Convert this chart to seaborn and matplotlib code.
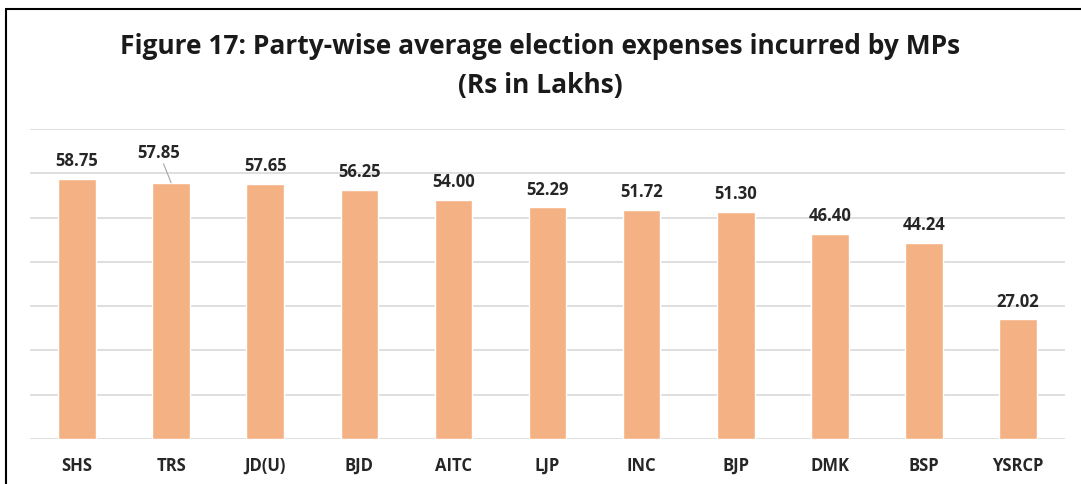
import numpy as np
import pandas as pd
import matplotlib
matplotlib.use("Agg")
import matplotlib.pyplot as plt
import seaborn as sns

parties = ["SHS", "TRS", "JD(U)", "BJD", "AITC", "LJP", "INC", "BJP", "DMK", "BSP", "YSRCP"]
avg_expense = [58.75, 57.85, 57.65, 56.25, 54.00, 52.29, 51.72, 51.30, 46.40, 44.24, 27.02]
value_labels = ["58.75", "57.85", "57.65", "56.25", "54.00", "52.29", "51.72", "51.30", "46.40", "44.24", "27.02"]

sns.set_style("white")
plt.rcParams['font.family'] = ['Open Sans', 'DejaVu Sans']

df = pd.DataFrame({"party": parties, "expense": avg_expense})

fig = plt.figure(figsize=(10.81, 4.85), dpi=100)
ax = fig.add_axes([30 / 1081, 45 / 485, 1035 / 1081, 310 / 485])

sns.barplot(data=df, x="party", y="expense", color="#F4B183", width=0.4,
            saturation=1, ax=ax, zorder=3)

ax.set_ylim(0, 70)
ax.set_yticks(np.arange(0, 71, 10))
ax.yaxis.grid(True, color="#D9D9D9", linewidth=1.2, zorder=0)
ax.set_yticklabels([])
ax.tick_params(axis="y", length=0)
ax.tick_params(axis="x", length=0, pad=12, labelsize=12, labelcolor="#262626")
for t in ax.get_xticklabels():
    t.set_fontweight("bold")
ax.set_xlabel("")
ax.set_ylabel("")
for s in ax.spines.values():
    s.set_visible(False)

# data labels (TRS label was dragged in the original, with a leader line)
for i, (v, lab) in enumerate(zip(avg_expense, value_labels)):
    if parties[i] == "TRS":
        ax.annotate(lab, xy=(i, v), xytext=(-9, 16), textcoords="offset points",
                    ha="center", va="bottom", fontsize=12, fontweight="bold", color="#262626",
                    arrowprops=dict(arrowstyle="-", color="#A6A6A6", lw=0.8,
                                    shrinkA=0, shrinkB=0))
    else:
        ax.annotate(lab, xy=(i, v), xytext=(0, 7), textcoords="offset points",
                    ha="center", va="bottom", fontsize=12, fontweight="bold", color="#262626")

fig.text(0.5, 1 - 47 / 485, "Figure 17: Party-wise average election expenses incurred by MPs",
         ha="center", va="center", fontsize=19, fontweight="bold", color="#1a1a1a")
fig.text(0.5, 1 - 86 / 485, "(Rs in Lakhs)",
         ha="center", va="center", fontsize=19, fontweight="bold", color="#1a1a1a")

# outer chart border (left and top edges visible in the reference)
fig.add_artist(plt.Line2D([6 / 1081, 6 / 1081], [0, 1 - 10 / 485], color="black", lw=1.5,
                          transform=fig.transFigure))
fig.add_artist(plt.Line2D([6 / 1081, 1], [1 - 10 / 485, 1 - 10 / 485], color="black", lw=1.5,
                          transform=fig.transFigure))

fig.savefig("out.png", dpi=100)
